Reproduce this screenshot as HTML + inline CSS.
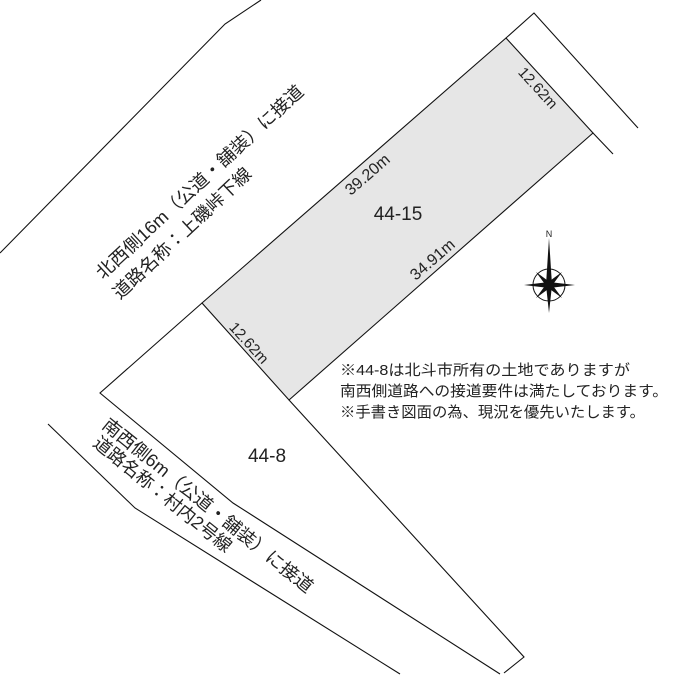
<!DOCTYPE html>
<html><head><meta charset="utf-8"><style>
html,body{margin:0;padding:0;background:#fff;}
svg{display:block;}
text{font-family:"Liberation Sans","Noto Sans CJK JP",sans-serif;fill:#222;}
</style></head><body>
<svg width="675" height="675" viewBox="0 0 675 675" xmlns="http://www.w3.org/2000/svg">
<g fill="none" stroke="#111" stroke-width="1.1">
<polyline points="0,253 225,24 261,0"/>
<polygon points="202,303 506,38 593,133 289,400" fill="#e6e6e6"/>
<polyline points="506,38 534,13 638,128"/>
<polyline points="593,133 613,154"/>
<polyline points="202,303 100,393 233,503 500,674"/>
<polyline points="289,400 524,657 504,673"/>
<polyline points="48,424 135,508 400,674"/>
</g>
<!-- compass -->
<g transform="translate(549,285)">
<circle r="16" fill="none" stroke="#111" stroke-width="1"/>
<polygon points="0,-47 3,0 0,28 -3,0" fill="#111"/>
<polygon points="-25,0 0,-3 26,0 0,3" fill="#111"/>
<polygon points="-13,-13 2,-2 13,13 -2,2" fill="#111"/>
<polygon points="13,-13 2,2 -13,13 -2,-2" fill="#111"/>
<circle r="5" fill="#111"/>
</g>
<text x="549" y="237" font-size="9" text-anchor="middle">N</text>

<text transform="translate(103,280) rotate(-42.8)" font-size="18" textLength="275" lengthAdjust="spacingAndGlyphs">北西側16m（公道・舗装）に接道</text>
<text transform="translate(120,300) rotate(-43.2)" font-size="18" textLength="182" lengthAdjust="spacingAndGlyphs">道路名称：上磯峠下線</text>

<text transform="translate(101,427) rotate(39)" font-size="18" textLength="265" lengthAdjust="spacingAndGlyphs">南西側6m（公道・舗装）に接道</text>
<text transform="translate(92,445) rotate(39)" font-size="18" textLength="172" lengthAdjust="spacingAndGlyphs">道路名称：村内2号線</text>

<text transform="translate(367,174) rotate(-41)" font-size="16" text-anchor="middle" dy="6">39.20m</text>
<text transform="translate(432,259) rotate(-41)" font-size="16" text-anchor="middle" dy="6">34.91m</text>
<text transform="translate(538,88) rotate(47.5)" font-size="15" text-anchor="middle" dy="5">12.62m</text>
<text transform="translate(249,343) rotate(47.5)" font-size="15" text-anchor="middle" dy="5">12.62m</text>

<text x="398" y="220" font-size="19" text-anchor="middle">44-15</text>
<text x="267" y="462" font-size="19" text-anchor="middle">44-8</text>

<text x="340" y="375" font-size="15" textLength="290" lengthAdjust="spacingAndGlyphs">※44-8は北斗市所有の土地でありますが</text>
<text x="340" y="396" font-size="15" textLength="328" lengthAdjust="spacingAndGlyphs">南西側道路への接道要件は満たしております。</text>
<text x="340" y="417" font-size="15" textLength="305" lengthAdjust="spacingAndGlyphs">※手書き図面の為、現況を優先いたします。</text>
</svg>
</body></html>
